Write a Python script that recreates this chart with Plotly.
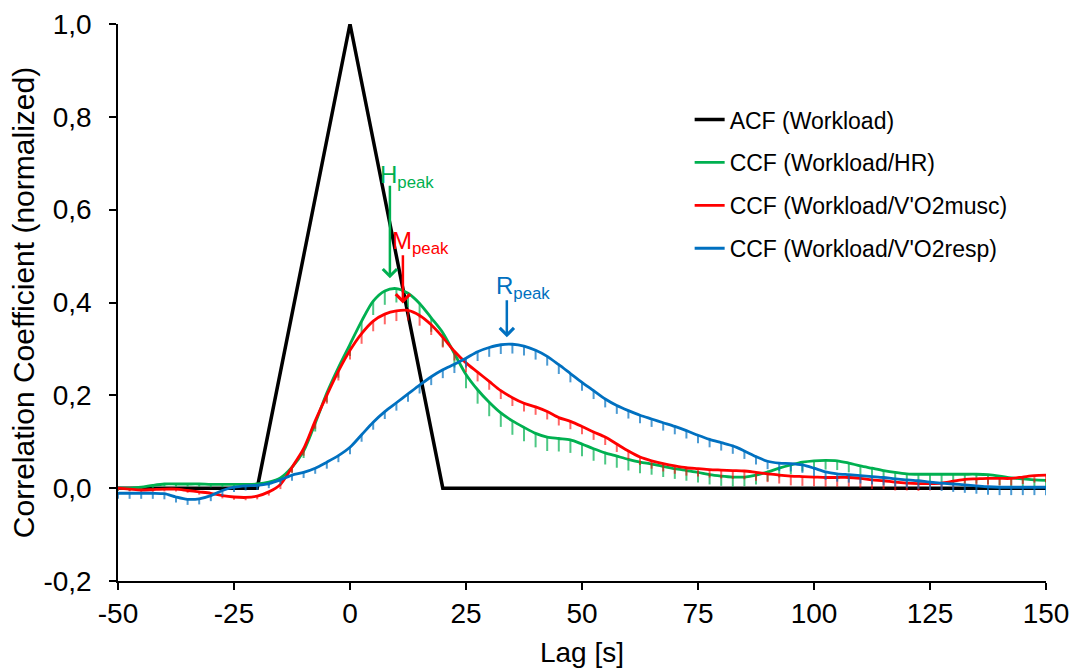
import plotly.graph_objects as go

# ---------------- data ----------------
lag = [-50 + 2.5 * i for i in range(81)]

acf_lag = [-50, -20, 0, 20, 150]
acf_val = [0.0, 0.0, 1.0, 0.0, 0.0]

hr_val = [0.0, 0.0, 0.002, 0.006, 0.009, 0.009, 0.009, 0.009, 0.008, 0.008,
          0.008, 0.008, 0.009, 0.013, 0.022, 0.045, 0.08, 0.14, 0.205, 0.26,
          0.31, 0.36, 0.403, 0.425, 0.43, 0.42, 0.398, 0.367, 0.335, 0.29,
          0.245, 0.212, 0.185, 0.162, 0.145, 0.131, 0.118, 0.11, 0.107, 0.104,
          0.095, 0.085, 0.076, 0.069, 0.062, 0.056, 0.052, 0.047, 0.042, 0.038,
          0.034, 0.029, 0.026, 0.024, 0.024, 0.028, 0.035, 0.043, 0.05, 0.056,
          0.059, 0.06, 0.059, 0.054, 0.048, 0.043, 0.038, 0.034, 0.031, 0.03,
          0.03, 0.03, 0.03, 0.03, 0.03, 0.029, 0.026, 0.022, 0.02, 0.018,
          0.017]
hr_err = [0.006, 0.006, 0.006, 0.006, 0.006, 0.006, 0.006, 0.006, 0.006, 0.006,
          0.006, 0.006, 0.006, 0.008, 0.01, 0.012, 0.015, 0.018, 0.02, 0.022,
          0.025, 0.028, 0.03, 0.03, 0.03, 0.03, 0.03, 0.03, 0.03, 0.03,
          0.03, 0.03, 0.03, 0.03, 0.03, 0.03, 0.03, 0.03, 0.028, 0.028,
          0.026, 0.026, 0.025, 0.025, 0.024, 0.024, 0.023, 0.023, 0.022, 0.022,
          0.022, 0.021, 0.021, 0.021, 0.02, 0.02, 0.02, 0.02, 0.02, 0.02,
          0.02, 0.02, 0.02, 0.02, 0.02, 0.02, 0.02, 0.02, 0.02, 0.02,
          0.02, 0.02, 0.02, 0.02, 0.02, 0.02, 0.02, 0.02, 0.02, 0.02,
          0.02]

musc_val = [0.0, -0.002, -0.004, -0.003, -0.002, -0.002, -0.005, -0.008, -0.011, -0.016,
            -0.019, -0.02, -0.017, -0.008, 0.008, 0.045, 0.085, 0.145, 0.2, 0.252,
            0.297, 0.333, 0.36, 0.375, 0.382, 0.383, 0.372, 0.352, 0.325, 0.295,
            0.27, 0.25, 0.23, 0.21, 0.195, 0.183, 0.175, 0.165, 0.152, 0.144,
            0.133, 0.121, 0.11, 0.095, 0.08, 0.067, 0.059, 0.053, 0.048, 0.044,
            0.042, 0.04, 0.039, 0.038, 0.037, 0.034, 0.031, 0.028, 0.026, 0.025,
            0.024, 0.023, 0.023, 0.023, 0.021, 0.018, 0.016, 0.013, 0.011, 0.01,
            0.01, 0.011, 0.015, 0.019, 0.02, 0.021, 0.021, 0.021, 0.024, 0.027,
            0.028]
musc_err = [0.005, 0.005, 0.005, 0.005, 0.005, 0.005, 0.005, 0.006, 0.006, 0.006,
            0.006, 0.006, 0.007, 0.008, 0.01, 0.012, 0.015, 0.017, 0.018, 0.02,
            0.02, 0.022, 0.022, 0.022, 0.022, 0.022, 0.022, 0.022, 0.022, 0.02,
            0.02, 0.02, 0.018, 0.018, 0.018, 0.018, 0.017, 0.017, 0.017, 0.017,
            0.017, 0.017, 0.017, 0.017, 0.017, 0.017, 0.017, 0.017, 0.017, 0.017,
            0.017, 0.017, 0.018, 0.018, 0.018, 0.018, 0.018, 0.018, 0.02, 0.02,
            0.02, 0.02, 0.02, 0.02, 0.02, 0.02, 0.018, 0.018, 0.016, 0.016,
            0.015, 0.015, 0.015, 0.015, 0.015, 0.015, 0.015, 0.015, 0.015, 0.015,
            0.015]

resp_val = [-0.011, -0.011, -0.011, -0.011, -0.012, -0.019, -0.024, -0.023, -0.016, -0.005,
            0.002, 0.005, 0.006, 0.01, 0.018, 0.028, 0.034, 0.043, 0.056, 0.07,
            0.088, 0.115, 0.142, 0.165, 0.184, 0.203, 0.222, 0.24, 0.255, 0.267,
            0.28, 0.294, 0.303, 0.309, 0.31, 0.306, 0.297, 0.284, 0.266, 0.247,
            0.228, 0.21, 0.192, 0.178, 0.167, 0.157, 0.149, 0.141, 0.133, 0.124,
            0.114, 0.105, 0.098, 0.091, 0.08, 0.068, 0.058, 0.054, 0.053, 0.05,
            0.043, 0.035, 0.031, 0.029, 0.027, 0.025, 0.023, 0.02, 0.018, 0.016,
            0.013, 0.011, 0.009, 0.007, 0.005, 0.003, 0.002, 0.002, 0.002, 0.002,
            0.002]
resp_err = [0.012, 0.012, 0.012, 0.012, 0.012, 0.012, 0.012, 0.012, 0.012, 0.012,
            0.01, 0.01, 0.01, 0.01, 0.01, 0.012, 0.012, 0.012, 0.014, 0.014,
            0.015, 0.015, 0.016, 0.016, 0.017, 0.017, 0.018, 0.018, 0.018, 0.019,
            0.02, 0.02, 0.02, 0.02, 0.02, 0.02, 0.02, 0.02, 0.02, 0.019,
            0.018, 0.018, 0.018, 0.018, 0.017, 0.017, 0.017, 0.017, 0.017, 0.017,
            0.017, 0.017, 0.017, 0.017, 0.017, 0.017, 0.017, 0.017, 0.017, 0.017,
            0.017, 0.017, 0.017, 0.017, 0.017, 0.017, 0.017, 0.017, 0.017, 0.017,
            0.017, 0.017, 0.017, 0.017, 0.017, 0.017, 0.017, 0.017, 0.017, 0.017,
            0.017]

names = ["ACF (Workload)", "CCF (Workload/HR)",
         "CCF (Workload/V'O2musc)", "CCF (Workload/V'O2resp)"]
x_ticks = [-50, -25, 0, 25, 50, 75, 100, 125, 150]
x_ticktext = ["-50", "-25", "0", "25", "50", "75", "100", "125", "150"]
y_ticks = [-0.2, 0.0, 0.2, 0.4, 0.6, 0.8, 1.0]
y_ticktext = ["-0,2", "0,0", "0,2", "0,4", "0,6", "0,8", "1,0"]

GREEN = "#00B050"
RED = "#FF0000"
BLUE = "#0070C0"
FONT = "Liberation Sans, Arial, sans-serif"

fig = go.Figure()

fig.add_trace(go.Scatter(x=acf_lag, y=acf_val, mode="lines", name=names[0],
                         legendgroup="a",
                         line=dict(color="black", width=3.5)))


def ccf(vals, errs, color, err_color, name, grp):
    return go.Scatter(
        x=lag, y=vals, mode="lines", name=name, legendgroup=grp,
        line=dict(color=color, width=2.8, shape="spline", smoothing=0.8),
        error_y=dict(type="data", symmetric=False,
                     array=[0] * len(errs), arrayminus=errs,
                     color=err_color, thickness=2, width=0),
    )


fig.add_trace(ccf(hr_val, hr_err, GREEN, "rgba(0,176,80,0.7)", names[1], "b"))
fig.add_trace(ccf(musc_val, musc_err, RED, "rgba(255,0,0,0.6)", names[2], "c"))
fig.add_trace(ccf(resp_val, resp_err, BLUE, "rgba(0,112,192,0.7)", names[3], "d"))

# peak arrows and labels
peaks = [
    dict(txt="H<sub>peak</sub>", color=GREEN, tx=12.3, ty=0.672,
         x=8.6, y=0.452, ax=8.6, ay=0.655),
    dict(txt="M<sub>peak</sub>", color=RED, tx=15.2, ty=0.530,
         x=11.4, y=0.398, ax=11.4, ay=0.505),
    dict(txt="R<sub>peak</sub>", color=BLUE, tx=37.3, ty=0.432,
         x=33.8, y=0.325, ax=33.8, ay=0.408),
]
for p in peaks:
    fig.add_annotation(x=p["x"], y=p["y"], ax=p["ax"], ay=p["ay"],
                       xref="x", yref="y", axref="x", ayref="y",
                       text="", showarrow=True, arrowhead=4, arrowsize=1.1,
                       arrowwidth=2.5, arrowcolor=p["color"])
    fig.add_annotation(x=p["tx"], y=p["ty"], xref="x", yref="y",
                       text=p["txt"], showarrow=False,
                       font=dict(family=FONT, size=24, color=p["color"]))

fig.update_layout(
    width=1075, height=670,
    margin=dict(l=118, r=29, t=24, b=89),
    paper_bgcolor="white", plot_bgcolor="white",
    font=dict(family=FONT, color="black"),
    showlegend=True,
    legend=dict(x=0.616, y=0.867, xanchor="left", yanchor="top",
                font=dict(family=FONT, size=23, color="black"),
                traceorder="grouped", tracegroupgap=10,
                bgcolor="rgba(0,0,0,0)", itemwidth=30),
)
fig.update_xaxes(range=[-50, 150], tickvals=x_ticks, ticktext=x_ticktext,
                 automargin=False, showgrid=False,
                 zeroline=False, showline=True, linecolor="black", linewidth=1.5,
                 ticks="outside", ticklen=7, tickwidth=1.5, tickcolor="black",
                 tickfont=dict(family=FONT, size=28, color="black"),
                 title=dict(text="Lag [s]", font=dict(family=FONT, size=28),
                            standoff=14))
fig.update_yaxes(range=[-0.2, 1.0], tickvals=y_ticks, ticktext=y_ticktext,
                 automargin=False,
                 showgrid=False, zeroline=False, showline=True, linecolor="black",
                 linewidth=1.5, ticks="outside", ticklen=7, tickwidth=1.5,
                 tickcolor="black", ticklabelstandoff=12,
                 tickfont=dict(family=FONT, size=28, color="black"),
                 title=dict(text="Correlation Coefficient (normalized)",
                            font=dict(family=FONT, size=30), standoff=0))

fig.write_html("out.html",
               config={"displayModeBar": False},
               post_script="document.body.style.margin='0';"
                           "document.body.style.overflow='hidden';")
